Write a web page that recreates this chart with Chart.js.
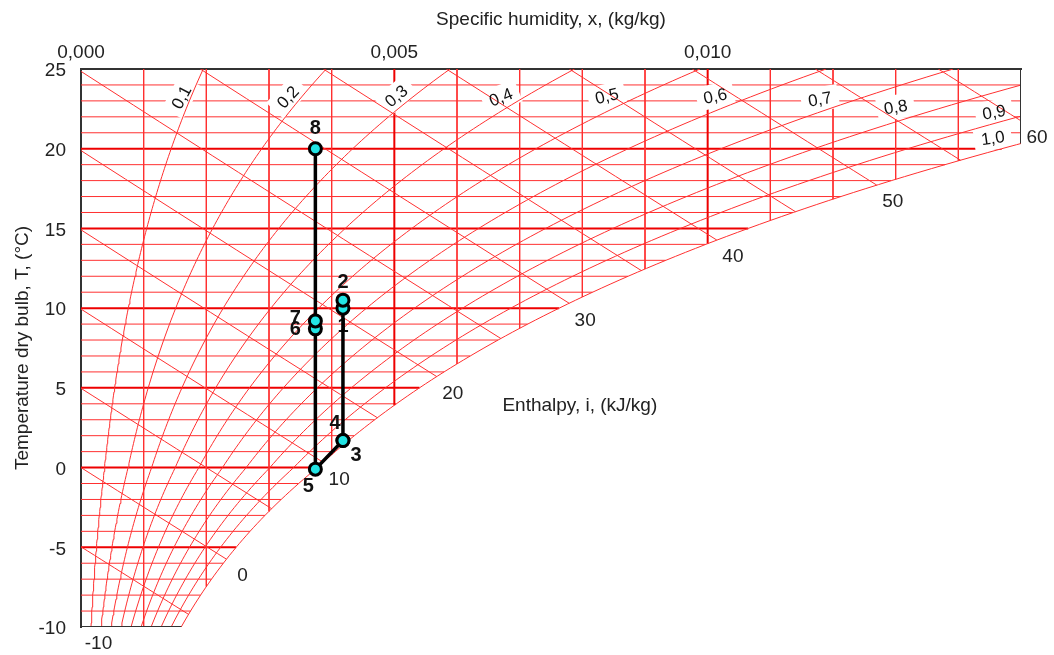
<!DOCTYPE html>
<html>
<head>
<meta charset="utf-8">
<script src="https://cdn.jsdelivr.net/npm/chart.js@4.4.1/dist/chart.umd.min.js"></script>
<style>
html,body{margin:0;padding:0;background:#fff;}
canvas{display:block;}
</style>
</head>
<body>
<canvas id="c" width="1054" height="655"></canvas>
<script>
// ----- values -----
const pointLabels = ['1','2','3','4','5','6','7','8'];
const pointX = [0.00418, 0.00418, 0.00418, 0.00418, 0.00374, 0.00374, 0.00374, 0.00374]; // kg/kg
const pointT = [10.0, 10.5, 1.7, 1.7, -0.1, 8.7, 9.2, 20.0];                           // °C

const humidityTicks = [0, 0.005, 0.010];
const temperatureTicks = [-10, -5, 0, 5, 10, 15, 20, 25];

const gridTemperature = [-9,-8,-7,-6,-5,-4,-3,-2,-1,0,1,2,3,4,5,6,7,8,9,10,11,12,13,14,15,16,17,18,19,20,21,22,23,24];
const gridHumidity = [0.001,0.002,0.003,0.004,0.005,0.006,0.007,0.008,0.009,0.010,0.011,0.012,0.013,0.014];

const rhLevels = [0.1,0.2,0.3,0.4,0.5,0.6,0.7,0.8,0.9,1.0];
const rhLabels = ['0,1','0,2','0,3','0,4','0,5','0,6','0,7','0,8','0,9','1,0'];
const rhLabelX = [0.00160,0.00330,0.00503,0.00670,0.00839,0.01012,0.01179,0.01300,0.01457,0.01455];
const rhLabelT = [23.24,23.24,23.31,23.24,23.31,23.31,23.12,22.62,22.30,20.67];

const enthalpyLevels = [-10,-5,0,5,10,15,20,25,30,35,40,45,50,55,60];
const enthalpyLabelled = [-10,0,10,20,30,40,50,60];

const titleX = 'Specific humidity, x, (kg/kg)';
const titleY = 'Temperature dry bulb, T, (°C)';
const titleI = 'Enthalpy, i, (kJ/kg)';
const titleIAt = {x: 0.00796, T: 3.86};

// ----- styles -----
const FONT = "'Liberation Sans', Arial, Helvetica, sans-serif";
const RED_THIN = '#ff3030';
const RED_MAJOR = '#ee0000';
const rhLabelAngle = [-62,-47,-40,-22,-14,-12,-10,-10,-10,-8];
const pointLabelOffset = [[0,18],[0,-18],[13,15],[-8,-17],[-7,17],[-20,1],[-20,-2],[0,-20]];

// ----- psychrometric relations (p = 101325 Pa) -----
const P = 101325, X_MAX = 0.015, T_MIN = -10, T_MAX = 25;
function pSat(T){ return T >= 0 ? 610.78*Math.exp(17.27*T/(T+237.3)) : 611.15*Math.exp(22.452*T/(272.55+T)); }
function xAt(T, phi){ const pv = phi*pSat(T); return 0.622*pv/(P-pv); }
function dewPoint(x){
  const pv = x*P/(0.622+x);
  if (pv >= 610.78){ const L = Math.log(pv/610.78); return 237.3*L/(17.27-L); }
  const L = Math.log(pv/611.15); return 272.55*L/(22.452-L);
}
function hOf(T, x){ return 1.006*T + x*(2501 + 1.86*T); }
function tOnH(i, x){ return (i - 2501*x)/(1.006 + 1.86*x); }

const datasets = [];
function addLine(pts, color, width, label){
  datasets.push({label: label || '', data: pts, showLine: true, borderColor: color, borderWidth: width,
    pointRadius: 0, pointHoverRadius: 0, fill: false, tension: 0});
}

// horizontal grid (temperature), clipped by the saturation curve
gridTemperature.forEach(T => {
  const xe = Math.min(xAt(T, 1), X_MAX);
  const major = T % 5 === 0;
  addLine([{x:0,y:T},{x:xe,y:T}], major ? RED_MAJOR : RED_THIN, major ? 2 : 1);
});
// vertical grid (humidity), clipped by the dew point
gridHumidity.forEach(x => {
  const te = Math.max(dewPoint(x), T_MIN);
  const major = Math.abs(x - 0.005) < 1e-9 || Math.abs(x - 0.010) < 1e-9;
  addLine([{x:x,y:T_MAX},{x:x,y:te}], major ? RED_MAJOR : RED_THIN, major ? 2 : 1);
});
datasets[datasets.length-1].label = 'mask';

// relative humidity curves
rhLevels.forEach(phi => {
  const pts = [];
  for (let T = T_MIN; T <= T_MAX + 1e-9; T += 0.25){
    const x = xAt(T, phi);
    pts.push({x:x, y:T});
    if (x > X_MAX) break;
  }
  addLine(pts, RED_THIN, 1);
});

// enthalpy lines
const enthalpyEnds = {};
enthalpyLevels.forEach(i => {
  let xs, ts;
  const t0 = i/1.006;
  if (t0 <= T_MAX){ xs = 0; ts = t0; } else { xs = (i - 1.006*T_MAX)/(2501 + 1.86*T_MAX); ts = T_MAX; }
  let xe, te;
  if (hOf(T_MIN, xAt(T_MIN,1)) >= i){
    te = T_MIN; xe = (i - 1.006*T_MIN)/(2501 + 1.86*T_MIN); if (xe < 0) xe = 0;
  } else {
    let lo = T_MIN, hi = T_MAX + 5;
    for (let k = 0; k < 60; k++){ const m = (lo+hi)/2; if (hOf(m, xAt(m,1)) < i) lo = m; else hi = m; }
    te = lo; xe = xAt(te, 1);
    if (xe > X_MAX){ xe = X_MAX; te = tOnH(i, X_MAX); }
  }
  const pts = [];
  const n = 16;
  for (let k = 0; k <= n; k++){
    const x = xs + (xe - xs)*k/n;
    pts.push({x:x, y: k === 0 ? ts : tOnH(i, x)});
  }
  enthalpyEnds[i] = {x: xe, y: te};
  addLine(pts, RED_THIN, 1);
});

// partial frame: right and bottom edges follow the saturation curve
addLine([{x:X_MAX,y:T_MAX},{x:X_MAX,y:dewPoint(X_MAX)}], '#333', 2);
addLine([{x:0,y:T_MIN},{x:xAt(T_MIN,1),y:T_MIN}], '#333', 2);
datasets[datasets.length-1].label = 'labels';

// process path
datasets.push({
  label: 'process',
  data: pointX.map((x, k) => ({x: x, y: pointT[k]})),
  showLine: true, borderColor: '#000', borderWidth: 3.5, tension: 0,
  pointRadius: 6, pointHoverRadius: 6, pointBackgroundColor: '#22e4e4',
  pointBorderColor: '#000', pointBorderWidth: 3
});

// Chart.js paints the last dataset first: reverse so the build order is the paint order
datasets.reverse();

function drawRhMasks(chart){
  const ctx = chart.ctx, xs = chart.scales.x, ys = chart.scales.y;
  ctx.save();
  ctx.font = '17px ' + FONT;
  rhLabels.forEach((t, k) => {
    const px = xs.getPixelForValue(rhLabelX[k]), py = ys.getPixelForValue(rhLabelT[k]);
    const w = ctx.measureText(t).width + 14, h = 24;
    ctx.save();
    ctx.translate(px, py); ctx.rotate(rhLabelAngle[k]*Math.PI/180);
    ctx.fillStyle = '#fff'; ctx.fillRect(-w/2, -h/2, w, h);
    ctx.restore();
  });
  ctx.restore();
}
function drawLabels(chart){
  const ctx = chart.ctx, xs = chart.scales.x, ys = chart.scales.y;
  ctx.save();
  ctx.textAlign = 'center'; ctx.textBaseline = 'middle';
  // RH labels
  ctx.font = '17px ' + FONT; ctx.fillStyle = '#111';
  rhLabels.forEach((t, k) => {
    const px = xs.getPixelForValue(rhLabelX[k]), py = ys.getPixelForValue(rhLabelT[k]);
    ctx.save(); ctx.translate(px, py); ctx.rotate(rhLabelAngle[k]*Math.PI/180);
    ctx.fillText(t, 0, 1); ctx.restore();
  });
  // enthalpy values
  ctx.font = '19px ' + FONT; ctx.fillStyle = '#222';
  enthalpyLabelled.forEach(i => {
    const e = enthalpyEnds[i];
    ctx.fillText(String(i), xs.getPixelForValue(e.x) + 16, ys.getPixelForValue(e.y) + 17);
  });
  ctx.fillText(titleI, xs.getPixelForValue(titleIAt.x), ys.getPixelForValue(titleIAt.T));
  // process point labels
  ctx.font = 'bold 20px ' + FONT; ctx.fillStyle = '#111';
  pointLabels.forEach((t, k) => {
    const px = xs.getPixelForValue(pointX[k]) + pointLabelOffset[k][0];
    const py = ys.getPixelForValue(pointT[k]) + pointLabelOffset[k][1];
    ctx.fillText(t, px, py);
  });
  ctx.restore();
}

const overlay = {
  id: 'overlay',
  afterDatasetDraw(chart, args){
    const lab = chart.data.datasets[args.index].label;
    if (lab === 'mask') drawRhMasks(chart);
    if (lab === 'labels') drawLabels(chart);
  }
};

Chart.defaults.font.family = FONT;
new Chart(document.getElementById('c'), {
  type: 'scatter',
  data: { datasets: datasets },
  options: {
    responsive: false, animation: false, devicePixelRatio: 1, events: [],
    layout: { padding: {left: 0, top: 0, right: 33, bottom: 28} },
    plugins: { legend: {display: false}, tooltip: {enabled: false} },
    scales: {
      x: {
        type: 'linear', position: 'top', min: 0, max: X_MAX,
        afterBuildTicks: s => { s.ticks = humidityTicks.map(v => ({value: v})); },
        afterFit: s => { s.height = 69; },
        grid: {display: false, drawTicks: false},
        border: {display: true, color: '#333', width: 2},
        ticks: {autoSkip: false, maxRotation: 0, padding: 5, color: '#222', font: {size: 19},
          callback: v => v.toFixed(3).replace('.', ',')},
        title: {display: true, text: titleX, color: '#222', font: {size: 19}, padding: {top: 8, bottom: 0}}
      },
      y: {
        type: 'linear', position: 'left', min: T_MIN, max: T_MAX,
        afterBuildTicks: s => { s.ticks = temperatureTicks.map(v => ({value: v})); },
        afterFit: s => { s.width = 81; },
        grid: {display: false, drawTicks: false},
        border: {display: true, color: '#333', width: 2},
        ticks: {autoSkip: false, padding: 15, labelOffset: 2, color: '#222', font: {size: 19}},
        title: {display: true, text: titleY, color: '#222', font: {size: 19}, padding: {top: 11, bottom: 0}}
      }
    }
  },
  plugins: [overlay]
});
</script>
</body>
</html>
